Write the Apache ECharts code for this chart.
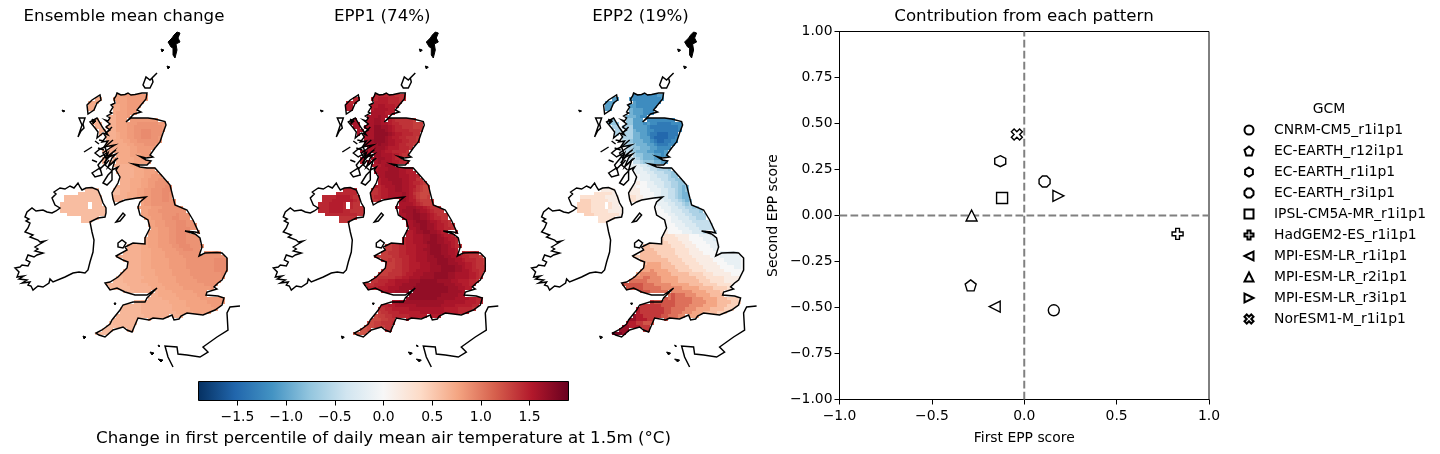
<!DOCTYPE html>
<html><head><meta charset="utf-8">
<style>html,body{margin:0;padding:0;background:#fff}#c{width:1440px;height:454px}</style>
<script src="https://cdn.jsdelivr.net/npm/echarts@6/dist/echarts.min.js"></script>
</head><body><div id="c"></div>
<script>
// ---------- scatter data ----------
const gcmNames=['CNRM-CM5_r1i1p1','EC-EARTH_r12i1p1','EC-EARTH_r1i1p1','EC-EARTH_r3i1p1','IPSL-CM5A-MR_r1i1p1','HadGEM2-ES_r1i1p1','MPI-ESM-LR_r1i1p1','MPI-ESM-LR_r2i1p1','MPI-ESM-LR_r3i1p1','NorESM1-M_r1i1p1'];
const firstScore=[0.16,-0.29,-0.13,0.11,-0.12,0.83,-0.16,-0.285,0.185,-0.04];
const secondScore=[-0.515,-0.38,0.295,0.185,0.095,-0.10,-0.495,0.0,0.107,0.44];
const gcmSymbols=['circle','path://M50 0L100 38L81 100L19 100L0 38Z','path://M50 0L93 25L93 75L50 100L7 75L7 25Z','path://M30 0L70 0L100 30L100 70L70 100L30 100L0 70L0 30Z','rect','path://M33 0L67 0L67 33L100 33L100 67L67 67L67 100L33 100L33 67L0 67L0 33L33 33Z','path://M0 50L100 0L100 100Z','path://M50 0L100 100L0 100Z','path://M100 50L0 0L0 100Z','path://M25 0L50 25L75 0L100 25L75 50L100 75L75 100L50 75L25 100L0 75L25 50L0 25Z'];
const panelTitles=['Ensemble mean change','EPP1 (74%)','EPP2 (19%)'];
const colourTicks=[-1.5,-1,-0.5,0,0.5,1,1.5];
const colourRange=[-1.9,1.9];
const rdbu=['#053061','#2166ac','#4393c3','#92c5de','#d1e5f0','#f7f7f7','#fddbc7','#f4a582','#d6604d','#b2182b','#67001f'];
// ---------- coast outlines (map units) ----------
const gbMain=[[117,93],[121,95],[125,94.5],[128,93],[131,95],[135,94.5],[142,93],[147,93],[146,99],[141,105],[137,110],[141,112],[134,114],[129,119],[126,122],[131,118],[141,118],[148,118],[155,119],[165,121.5],[166,125],[163,133],[160,142],[155,148],[150,155],[153,157],[146,158],[140,156.5],[146,160],[151,161],[147,165],[140,165],[133,164],[140,167],[147,168],[155,168],[163,177],[170,185],[175,205],[187,210],[193,220],[199,233],[195,232],[185,231],[195,234],[200,238],[202,247],[199,256],[205,253],[217,252.5],[222,253],[227,258],[227,270],[222,280],[218,283],[214,287],[217,289],[207,292],[206,295],[218,296],[224,298],[222,305],[215,310],[203,315],[187,313],[181,316],[179,319],[174,320],[172,315],[163,319],[153,318],[149,320],[138,318],[135,325],[132,332],[127,330],[123,327],[113,330],[105,337],[99,335],[96,333],[102,330],[110,324],[112,320],[120,310],[123,305],[133,302],[145,302],[147,298],[157,288],[147,295],[135,295],[125,292],[117,288],[110,290],[105,283],[110,282],[118,277],[127,268],[128,262],[123,260],[117,257],[116,256],[127,250],[125,247],[133,243],[145,244],[145,238],[150,228],[148,220],[140,215],[138,207],[140,202],[146,197],[137,198],[125,200],[120,202],[115,205],[113,199],[112,193],[118,183],[120,177],[116,170],[118,167],[112,170],[115,160],[108,167],[112,158],[116,154],[106,158],[103,153],[110,148],[115,145],[104,147],[108,141],[102,142],[106,137],[104,134],[110,130],[106,127],[110,124],[105,120],[108,121],[110,118],[107,116],[112,113],[110,112],[113,107],[111,105],[115,103],[114,99],[116,96]];
const ireland=[[78,183],[80,187],[82,190],[86,188],[92,187.5],[98,190],[101,197],[103,203],[106,208],[106,213],[105,217],[98,218],[90,222],[92,232],[94,240],[93,252],[90,262],[88,270],[85,273],[79,272],[73,273],[65,277],[53,282],[50,279],[49,283],[43,287],[38,286],[33,290],[31,286],[28,285],[30,282],[22,283],[27,280],[19,279],[24,276],[17,277],[19,272],[15,268],[20,267],[22,265],[28,266],[30,262],[26,260],[28,255],[34,257],[37,255],[43,253],[35,251],[38,249],[35,247],[40,244],[45,241],[40,242],[38,240],[30,237],[33,235],[25,232],[28,228],[30,223],[26,221],[29,219],[25,217],[27,212],[32,208],[36,211],[43,210],[47,212],[52,213],[56,211],[60,208],[55,205],[52,198],[56,194],[54,192],[60,188],[65,189],[70,186],[74,188]];
const lewis=[[87,105],[92,100],[100,95],[101,100],[97,103],[94,110],[88,114]];
const uist=[[78,137],[82,125],[79,118],[85,118],[83,124],[84,128],[81,131]];
const skye=[[90,122],[97,118],[103,128],[108,135],[103,133],[97,138],[98,132],[95,128]];
const mull=[[95,153],[100,149],[105,147],[107,153],[100,157]];
const jura=[[98,165],[108,153],[105,164],[100,169]];
const islay=[[92,173],[100,168],[102,175],[95,177]];
const kintyre=[[103,183],[108,175],[112,171],[112,180],[107,185]];
const orkney=[[143,85],[146,77],[150,80],[157,73],[152,78],[153,82],[150,88],[145,88]];
const shetland=[[177,32],[180,33],[178,38],[180,42],[176,44],[177,50],[175,58],[173,55],[173,48],[171,47],[168,42],[172,38],[174,35]];
const isleOfMan=[[116,222],[123,213],[125,215],[120,221]];
const anglesey=[[118,243],[122,240],[126,243],[123,248],[118,247]];
const france=[[240,306],[230,307],[227,313],[228,330],[217,337],[203,347],[208,352],[200,357],[187,355],[178,354],[177,347],[165,346],[168,357],[173,367]];
const tiree=[[84,152],[92,147]];
const lochs=[[[116,150],[108,156],[113,152],[104,163]],[[118,158],[110,165]],[[113,140],[106,146]],[[112,127],[106,133]],[[104,150],[98,148]],[[111,170],[105,165],[109,160]],[[99,140],[104,141]],[[92,160],[97,162]],[[95,141],[99,144]]];
const smallIsles=[[[62,110],[65,111],[63,112]],[[161,49],[164,50],[162,52]],[[167,66],[170,67],[168,69]],[[114,303],[116,303],[115,305]],[[83,336],[86,337],[84,339]],[[150,352],[154,353],[152,355]],[[158,345],[160,346],[159,347]],[[158,359],[163,360],[161,362]],[[92,119],[96,121],[93,124]]];
// ---------- gridded fields: digit codes per row ----------
const rowStartCol=[15,15,15,15,15,15,14,14,13,13,13,13,13,13,13,13,13,12,12,12,12,15,15,15,15,15,15,15,15,15,15,15,15,22,22,22,22,23,23,23,23,18,18,18,18,18,16,16,16,16,15,15,15,15,13,13,13,13,13,14,14,14,14,14,14,14,10,10,10,10,10];
const meanRows=["66777777777","66677777777","66667777777","56667777777","55667777777","55667777777","5566677777","5566677777","5556667777777777777","5556667778888887777","5556667788888888777","4556667788999888777","4555667788999888877","44556677889998877","44555667788888877","44555566777888777","44455556677777777","4445555566777777","4444555566677777","4444455556677777","4444455556666777","4444455556666777","4444445556667777","4444445556667778","4444445556677788","4444455566777888","444445556677888888","444445556677888999","444445566778889998","444455566778889988","4444555667788899888","4444555667788899888","4444555667788888888","666677788888888","666777888888888","666777788889888","666677788899888","66667778889998888","66667778889998888","66666777889999888","66666777889998888","444455566677788999888888","444455566677788999888888","444445566677788999888888","444445566677778899988888","444445556667777889998888","44444445556666777788888888888888","44444445556666777778888888888888","44444445556666677777888888889999","33444445556666677777888888889999","3344444455566666777778888888899999","3344444455556666677777888888899999","3344444455556666677777888888888999","3334444445555666667777788888888888","33333444445555566666777777888888888","33333344444455556666677777778888888","33333334444445555666667777777788888","33333333444444455556666667777777888","33333333344444455555666666777777777","3333333344444445555566666677777777","3333333334444444455555666666777777","3333333334444444445555666666677777","33333333344444444455555666666677","33333333344444444445555566666666","33333333334444444444455555566666","33333333334444444444445555556666","2222233333333","2222223333333","2222222333333","2222222233333","2222222223333"];
const epp1Rows=["45555444433","45555554443","55666555443","56666555444","66776665544","67777665544","6777766655","6778776654","6778877654444433344","7788877655444433334","7889988765544433333","7899998765555444333","7899999876655544333","78999987665544433","78899987766554433","78889887765544333","77788876665554433","7778887665555433","7777887776654433","7677788776554443","6677787776655443","6667888777665543","6677788877665543","6777888877666543","6777888877766543","6667788887766443","666777888776554333","665677788776643222","655667788776543222","555667777876432223","4556677778765322333","4456667778766433334","4456667777776543334","777888776544433","778889877654443","677889988765444","677889988765544","66778999877655444","66678899887665444","56677899887665544","55667889988766544","444555566777889987665544","433445566777889988766544","433445566777899988776544","333445566677789998876544","333445566677889998877654","33334445566677789998877655444433","33333445556677788999887765544433","33334344556677788899988776555443","33333344556667778899988877665443","3333333445566677788899998876654443","3333334445566777788899998877655443","4333344445667778889999887777665433","4444444556677788889999887777665443","44445556677778889999988887766655444","44455566677888899999999888776655544","55556667778888999999999988877665544","55566677788899999999999988887766554","55566777888899999999998888877766555","4456677788889999999988888777766554","3344566778888888888888777777666554","3344556677777788888887777666665554","33344556666677777777776666555544","22334455566666677777776666555544","22233445555566666666666655554444","22223344455555566666655554444444","1112223344455","1111223334455","0111222334455","0011122334444","0001122233344"];
const epp2Rows=["ddccccccddd","dcccccccddd","dccccccccdd","ddccccccccd","ddcccccccdd","edddccccccc","eedddcccdd","eeedccdccc","feedddcccccccccccdd","ffedddcdccbbbbcccdd","ffeddddcbbbbbbbbccc","gfeedddccbbbbbbbccc","gfeeeddcbbaaabbbccc","hgfeedddbaaaabbcc","hgfeeeddcbaabbccc","hggfeeeddcbbbcccc","ihgffeeeddccccccc","jihgfeeeddcccddd","jjihgffeeeddcddd","jjihhgfeeedddddd","jjiihhgfffeedddd","jjjiihhggffeeeee","kjjjiihhgggffeee","kkjjjiihhhggffee","kkkjjjiihhhgfffe","kkkjjjiiihhggffe","lllkkjjiiihhggffff","llkkkjjjiihhggfeff","lllkkkjjjiihhgfeff","mllkkkkjjiihhgfeef","mmllkkkjjiihhgfeefg","mmlllkkkjjiihhgfefg","mllkkkkkjjjiihhgfgg","kkjjjiihhggfggg","kkkjjiiihhgggfg","lkkkjjiiihhgggg","lkkkkjjiiihhggg","lkkkjjjiiihhhhhhh","llkkkjjjiiihhhhhh","lllkkkjjjiiihhhhh","mllkkkkjjjiiihhhh","nnnnnnmmmmllllkkkjjjiiih","nnnnnnnmmmmlllkkkkjjjiii","oonnnnnnmmmmlllkkkkjjjii","ooonnnnnnmmmmlllkkkkjjjj","oooonnnnnnmmmmlllkkkkjjj","nnooooonnnnnmmmmllllkkkkjjjjjjjj","nnoooooonnnnnmmmmlllllkkkjjjjjjj","oooooooooonnnnmmmmlllllkkkjjjjjk","ooooppppooonnnnmmmmlllllkkkjjjjk","oooppppppoooonnnnmmmmlllllkkkkjjkk","ppppppqppppooonnnnmmmmlllllkkkkkkk","pppqqqqqppppooooonnnnmmmlllllkkkkk","qqqqrrqqqpppppooooonnnmmmmmlllllll","rrrrrrrqqqqpppppoooooonnnmmmmlllllk","ssssssrrrqqqqqpppppoooonnnnmmmmlllk","tsssssrrrrrqqqqqqpppppoooonnnnmmmll","ttttssssrrrrrrqqqqqqppppoooonnnmmml","ttttttssssrrrrsrrrqqqppppoooonnnmmm","uuttttssssssrsrrrrrqqqppppooonnnmm","uuttttttssssssrrrrrqqqqpppoooonnnm","uuuuttttttssssrrrrqqqqppppooonnnmm","uuuutttttttssrrrrqqqppppoooonnnm","vvuutttttttssrrrqqqpppoooonnnmmm","vvvuutttttssrrrqqqppppoooonnnmmm","vvvuuuttttsssrrqqqpppoooonnmmmml","vvvvuuuttsssr","vvvvvuuutttss","wwvvvvuuutttt","wwwvvvvuuuttt","wwwwvvvvuuutt"];
// Northern Ireland and island cells: first row 27 / 1 / 8
const niStartCol=[7,7,5,1,1,0,0,0,2,6,6];
const meanNI=["22222222","2222222222","222222222222","22222222222222","22222222222222","22222222.222222","22222222.222222","22222222222222","222222222222222","2222222","222222"];
const epp1NI=["55555555","5555544444","555555444444","55556666544444","55566666654444","55566665.544444","55566665.544444","55566665544444","555555555444444","4444444","444444"];
const epp2NI=["llllllll","llllllllll","mmmmmlllllll","mmmmmmmlllllll","nnnmmmmmllllll","nnnnmmmm.mlllll","nnnnmmmm.mlllll","nnnnmmmmmlllll","nnnmmmmmmmlllll","mmmmmmm","mmmmmm"];
const isleFirstRow=1, isleStartCol=7;
const meanIsles=["5555555","5555555","5555555","5555555","5555555","4444444","4444444","4444444","4444444","4444444","4444444","4444444","4444444"];
const epp1Isles=["5555555","5555555","5555555","6666666","6666666","6666666","7777777","7777777","7777777","7777777","7777777","7777777","7777777"];
const epp2Isles=["ddddddd","ddddddd","ddddddd","ddddddd","ddddddd","ddddddd","eeeeeee","fffffff","fffffff","ggggggg","ggggggg","ggggggg","ggggggg"];
const valueCodes={mean:[0.5,0.045,'0'],epp1:[1.14,0.06,'0'],epp2:[-1.5,0.15,'a']};

const CELL=3.5, GX=60, GY=90.25;
const filledRings=[gbMain,ireland,lewis,skye,mull,jura];
const outlineRings=[gbMain,ireland,lewis,uist,skye,mull,jura,islay,kintyre,orkney,isleOfMan,anglesey];
const blobRings=[shetland].concat(smallIsles);
const openLines=[france,tiree].concat(lochs);
const inside=(p,r)=>{let c=false;for(let i=0,j=r.length-1;i<r.length;j=i++){const a=r[i],b=r[j];if((a[1]>p[1])!==(b[1]>p[1])&&p[0]<(b[0]-a[0])*(p[1]-a[1])/(b[1]-a[1])+a[0])c=!c;}return c;};
function cells(rows,ni,isles,code){
  const [base,step,zero]=code,out=[];
  const push=(s,r,c0)=>{for(let i=0;i<s.length;i++){if(s[i]==='.')continue;const c=c0+i,x=GX+CELL*c,y=GY+CELL*r;
    if(!filledRings.some(f=>inside([x+CELL/2,y+CELL/2],f)))continue;
    out.push([x,y,base+step*(s.charCodeAt(i)-zero.charCodeAt(0))]);}};
  rows.forEach((s,r)=>push(s,r,rowStartCol[r]));
  ni.forEach((s,k)=>push(s,27+k,niStartCol[k]));
  isles.forEach((s,k)=>push(s,isleFirstRow+k,isleStartCol+(k>5?2:0)));
  return out;
}
const hex=h=>[1,3,5].map(i=>parseInt(h.substr(i,2),16));
function colour(v){const t=Math.max(0,Math.min(1,(v-colourRange[0])/(colourRange[1]-colourRange[0])))*10;const i=Math.min(9,Math.floor(t)),f=t-i,a=hex(rdbu[i]),b=hex(rdbu[i+1]);
  return 'rgb('+a.map((x,k)=>Math.round(x+(b[k]-x)*f)).join(',')+')';}
const fields=[cells(meanRows,meanNI,meanIsles,valueCodes.mean),cells(epp1Rows,epp1NI,epp1Isles,valueCodes.epp1),cells(epp2Rows,epp2NI,epp2Isles,valueCodes.epp2)];

const FONT='DejaVu Sans';
const BIG=16.67, MID=13.9;
const grids=[],xAxes=[],yAxes=[],series=[],titles=[];
const PANEL_DX=258.3;
panelTitles.forEach((t,k)=>{
  grids.push({left:PANEL_DX*k,top:20,width:250,height:350});
  xAxes.push({gridIndex:k,type:'value',min:0,max:250,show:false});
  yAxes.push({gridIndex:k,type:'value',min:20,max:370,inverse:true,show:false});
  titles.push({text:t,left:124+PANEL_DX*k,top:8,padding:0,textAlign:'center',textStyle:{fontFamily:FONT,fontWeight:'normal',fontSize:BIG,color:'#000'}});
  series.push({type:'custom',xAxisIndex:k,yAxisIndex:k,clip:false,silent:true,z:1,data:fields[k],
    renderItem:(p,api)=>{const a=api.coord([api.value(0),api.value(1)]),b=api.coord([api.value(0)+CELL,api.value(1)+CELL]);
      const x0=Math.round(a[0]),y0=Math.round(a[1]);
      return {type:'rect',shape:{x:x0,y:y0,width:Math.round(b[0])-x0,height:Math.round(b[1])-y0},style:{fill:colour(api.value(2))}};}});
  const all=outlineRings.map(r=>[r,'o']).concat(blobRings.map(r=>[r,'b'])).concat(openLines.map(r=>[r,'l']));
  series.push({type:'custom',xAxisIndex:k,yAxisIndex:k,clip:false,silent:true,z:2,data:all.map((_,i)=>[i]),
    renderItem:(p,api)=>{const [r,kind]=all[p.dataIndex],pts=r.map(q=>api.coord(q));
      return {type:kind==='l'?'polyline':'polygon',shape:{points:pts},style:{fill:kind==='b'?'#000':'none',stroke:'#000',lineWidth:kind==='b'?1:1.45}};}});
});
// colour bar
grids.push({left:198.5,top:381.5,width:370,height:19});
xAxes.push({gridIndex:3,type:'value',min:colourRange[0],max:colourRange[1],position:'bottom',splitLine:{show:false},axisLine:{show:false},
  axisTick:{show:true,length:5,lineStyle:{color:'#000',width:1},customValues:colourTicks},
  axisLabel:{color:'#000',fontFamily:FONT,fontSize:MID,margin:10,customValues:colourTicks,formatter:v=>v.toFixed(1).replace('-','\u2212')},
  name:'Change in first percentile of daily mean air temperature at 1.5m (\u00b0C)',nameLocation:'middle',nameGap:30,nameTextStyle:{color:'#000',fontFamily:FONT,fontSize:BIG}});
yAxes.push({gridIndex:3,type:'value',min:0,max:1,show:false});
series.push({type:'custom',xAxisIndex:3,yAxisIndex:3,clip:false,silent:true,z:3,data:[[colourRange[0],1,colourRange[1],0]],
  renderItem:(p,api)=>{const a=api.coord([api.value(0),api.value(1)]),b=api.coord([api.value(2),api.value(3)]);
    return {type:'rect',shape:{x:a[0],y:a[1],width:b[0]-a[0],height:b[1]-a[1]},
      style:{stroke:'#000',lineWidth:1,fill:new echarts.graphic.LinearGradient(0,0,1,0,rdbu.map((c,i)=>({offset:i/10,color:c})))}};}});
// scatter panel
grids.push({left:839.5,top:31.5,width:369.5,height:368,show:true,borderColor:'#000',borderWidth:1,backgroundColor:'transparent'});
const axisCommon={type:'value',min:-1,max:1,splitLine:{show:false},
  axisLine:{show:true,onZero:false,lineStyle:{color:'#000',width:1}},
  axisTick:{show:true,length:5,lineStyle:{color:'#000',width:1}},
  nameLocation:'middle',nameTextStyle:{color:'#000',fontFamily:FONT,fontSize:MID}};
xAxes.push(Object.assign({},axisCommon,{gridIndex:4,interval:0.5,name:'First EPP score',nameGap:32,
  axisLabel:{color:'#000',fontFamily:FONT,fontSize:MID,margin:10,formatter:v=>v.toFixed(1).replace('-','\u2212')}}));
yAxes.push(Object.assign({},axisCommon,{gridIndex:4,interval:0.25,name:'Second EPP score',nameGap:59,
  axisLabel:{color:'#000',fontFamily:FONT,fontSize:MID,margin:7,formatter:v=>v.toFixed(2).replace('-','\u2212')}}));
titles.push({text:'Contribution from each pattern',left:1024,top:8,padding:0,textAlign:'center',textStyle:{fontFamily:FONT,fontWeight:'normal',fontSize:BIG,color:'#000'}});
titles.push({text:'GCM',left:1329,top:102,padding:0,textAlign:'center',textStyle:{fontFamily:FONT,fontWeight:'normal',fontSize:MID,color:'#000'}});
const dash={color:'#808080',width:2,type:[7.7,3.3]};
[[[0,-1],[0,1]],[[-1,0],[1,0]]].forEach(d=>series.push({type:'line',xAxisIndex:4,yAxisIndex:4,data:d,showSymbol:false,symbol:'none',silent:true,z:2,lineStyle:dash}));
gcmNames.forEach((n,i)=>series.push({type:'scatter',name:n,xAxisIndex:4,yAxisIndex:4,z:4,symbol:gcmSymbols[i],symbolSize:11,
  data:[[firstScore[i],secondScore[i]]],itemStyle:{color:'#fff',borderColor:'#000',borderWidth:1.4,opacity:1}}));

const chart=echarts.init(document.getElementById('c'),null,{renderer:'canvas'});
chart.setOption({animation:false,backgroundColor:'#fff',title:titles,grid:grids,xAxis:xAxes,yAxis:yAxes,series:series,
  legend:{show:true,data:gcmNames,orient:'vertical',left:1243.5,top:123,padding:0,itemWidth:9,itemHeight:9,itemGap:7,selectedMode:false,
    textStyle:{color:'#000',fontFamily:FONT,fontSize:MID,padding:[0,0,0,15.5]}}});
</script></body></html>
